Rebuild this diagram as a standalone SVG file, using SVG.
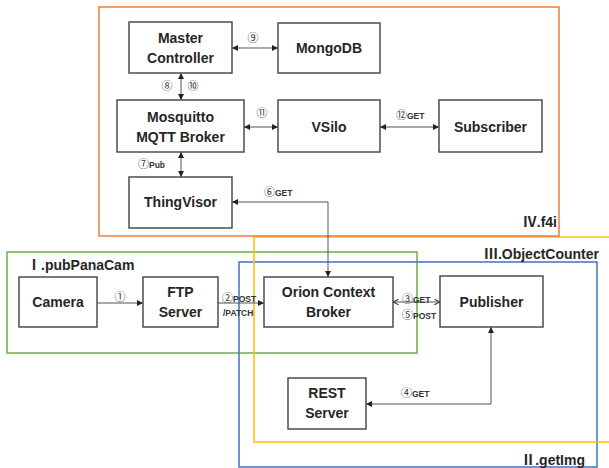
<svg xmlns="http://www.w3.org/2000/svg" width="609" height="468" viewBox="0 0 609 468">
<style>
.frame{fill:none;stroke-width:1.5}
.box rect{fill:#fff;stroke:#404040;stroke-width:1.4}
.box text{font-family:"Liberation Sans","Noto Sans CJK JP",sans-serif;font-weight:bold;font-size:14px;fill:#262626;text-anchor:middle}
.con{fill:none;stroke:#555;stroke-width:1}
.lbl{font-family:"Noto Sans CJK JP","Liberation Sans",sans-serif;font-size:11px;fill:#333}
.lbl tspan.b{font-family:"Liberation Sans",sans-serif;font-weight:bold;font-size:8.5px}
.title{font-family:"Liberation Sans","Noto Sans CJK JP",sans-serif;font-weight:bold;font-size:14px;fill:#262626}
.rn{font-family:"Noto Sans CJK JP",serif;font-weight:bold}
</style>
<defs>
<marker id="ah" viewBox="0 0 10 10" refX="10" refY="5" markerWidth="6" markerHeight="6" orient="auto-start-reverse" markerUnits="userSpaceOnUse">
<path d="M0,0 L10,5 L0,10 z" fill="#222"/>
</marker>
<marker id="ch" viewBox="0 0 10 10" refX="9" refY="5" markerWidth="7" markerHeight="7" orient="auto-start-reverse" markerUnits="userSpaceOnUse">
<path d="M1,1 L9,5 L1,9" fill="none" stroke="#333" stroke-width="1.5"/>
</marker>
</defs>
<rect width="609" height="468" fill="#fff"/>
<g id="frames">
<rect class="frame" x="7" y="252" width="410" height="101" stroke="#70AD47"/>
<rect class="frame" x="239" y="262" width="358" height="205" stroke="#4472C4"/>
<rect class="frame" x="254" y="237" width="360" height="205" stroke="#FFC000"/>
<rect class="frame" x="99" y="7" width="460" height="229" stroke="#ED7D31"/>
<text class="title" x="557" y="227" text-anchor="end"><tspan class="rn">Ⅳ</tspan>.f4i</text>
<text class="title" x="27" y="270"><tspan class="rn">Ⅰ</tspan>.pubPanaCam</text>
<text class="title" x="599" y="259" text-anchor="end"><tspan class="rn">Ⅲ</tspan>.ObjectCounter</text>
<text class="title" x="585" y="465" text-anchor="end"><tspan class="rn">Ⅱ</tspan>.getImg</text>
</g>
<g id="connectors">
<line class="con" x1="232" y1="48" x2="278" y2="48" marker-start="url(#ah)" marker-end="url(#ah)"/>
<line class="con" x1="181" y1="73" x2="181" y2="100" marker-start="url(#ah)" marker-end="url(#ah)"/>
<line class="con" x1="244" y1="127" x2="278" y2="127" marker-start="url(#ah)" marker-end="url(#ah)"/>
<line class="con" x1="380" y1="127" x2="439" y2="127" marker-start="url(#ah)" marker-end="url(#ah)"/>
<line class="con" x1="181" y1="152" x2="181" y2="177" marker-start="url(#ah)" marker-end="url(#ah)"/>
<path class="con" d="M232,202 H328 V277" marker-start="url(#ah)" marker-end="url(#ah)"/>
<line class="con" x1="97" y1="303" x2="143" y2="303" marker-end="url(#ah)"/>
<line class="con" x1="218" y1="303" x2="264" y2="303" marker-end="url(#ah)"/>
<line class="con" x1="393" y1="302" x2="440" y2="302" marker-start="url(#ch)" marker-end="url(#ch)"/>
<path class="con" d="M491,327 V404 H366" marker-start="url(#ah)" marker-end="url(#ah)"/>
<text class="lbl" x="253" y="42" text-anchor="middle">⑨</text>
<text class="lbl" x="167" y="90" text-anchor="middle">⑧</text>
<text class="lbl" x="193" y="90" text-anchor="middle">⑩</text>
<text class="lbl" x="262" y="117" text-anchor="middle">⑪</text>
<text class="lbl" x="396" y="119">⑫<tspan class="b">GET</tspan></text>
<text class="lbl" x="138" y="168">⑦<tspan class="b">Pub</tspan></text>
<text class="lbl" x="264" y="196">⑥<tspan class="b">GET</tspan></text>
<text class="lbl" x="120" y="301" text-anchor="middle">①</text>
<text class="lbl" x="222" y="302">②<tspan class="b">POST</tspan></text>
<text class="lbl" x="223" y="316"><tspan class="b">/PATCH</tspan></text>
<text class="lbl" x="402" y="303">③<tspan class="b">GET</tspan></text>
<text class="lbl" x="402" y="319">⑤<tspan class="b">POST</tspan></text>
<text class="lbl" x="401" y="397">④<tspan class="b">GET</tspan></text>
</g>
<g id="master-controller" class="box"><rect x="129" y="22" width="103" height="51"/><text x="180.5" y="43">Master</text><text x="180.5" y="63">Controller</text></g>
<g id="mongodb" class="box"><rect x="278" y="23" width="102" height="50"/><text x="329" y="53">MongoDB</text></g>
<g id="mosquitto" class="box"><rect x="117" y="100" width="127" height="52"/><text x="180.5" y="122">Mosquitto</text><text x="180.5" y="142">MQTT Broker</text></g>
<g id="vsilo" class="box"><rect x="278" y="100" width="102" height="52"/><text x="329" y="132">VSilo</text></g>
<g id="subscriber" class="box"><rect x="439" y="100" width="103" height="52"/><text x="490.5" y="132">Subscriber</text></g>
<g id="thingvisor" class="box"><rect x="129" y="177" width="103" height="51"/><text x="180.5" y="207">ThingVisor</text></g>
<g id="camera" class="box"><rect x="19" y="277" width="78" height="50"/><text x="58" y="307">Camera</text></g>
<g id="ftp-server" class="box"><rect x="143" y="277" width="75" height="50"/><text x="180.5" y="297">FTP</text><text x="180.5" y="317">Server</text></g>
<g id="orion" class="box"><rect x="264" y="277" width="129" height="50"/><text x="328.5" y="297">Orion Context</text><text x="328.5" y="317">Broker</text></g>
<g id="publisher" class="box"><rect x="440" y="276" width="103" height="51"/><text x="491.5" y="307">Publisher</text></g>
<g id="rest-server" class="box"><rect x="288" y="378" width="78" height="51"/><text x="327" y="398">REST</text><text x="327" y="418">Server</text></g>
</svg>
